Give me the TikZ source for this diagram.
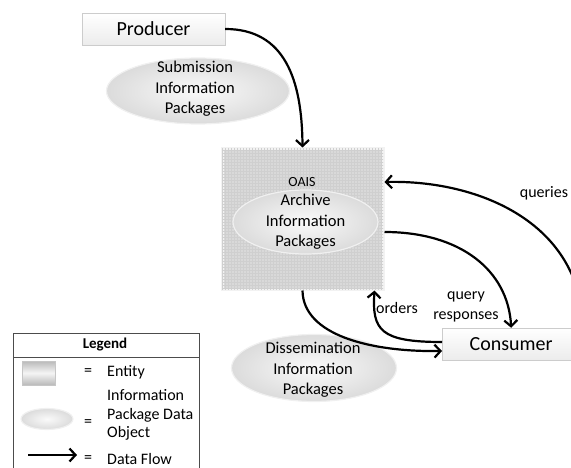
\documentclass[tikz,border=0pt]{standalone}
\usepackage{fontspec}
\setmainfont{Carlito}
\usetikzlibrary{shapes.geometric,arrows.meta,patterns,calc}

\begin{document}
\begin{tikzpicture}
[
	x=1pt, y=-1pt,
	entity/.style = {draw=gray!40, top color=white, bottom color=gray!15, inner sep=0pt, font=\fontsize{20}{24}\selectfont},
	archive/.style = {draw=gray!10, line width=3pt, fill=gray!30, postaction={pattern=grid, pattern color=gray!38}, minimum width=161pt, minimum height=140pt, inner sep=0pt},
	infopkg/.style = {ellipse, draw=gray!12, line width=1.2pt, inner color=gray!4, outer color=gray!28, inner sep=0pt},
	pkgtext/.style = {align=center, font=\fontsize{16.5}{20.5}\selectfont, inner sep=0pt},
	flow/.style = {line width=2.2pt, -{Straight Barb[length=6pt,width=13pt]}},
	lbl/.style = {font=\fontsize{16}{20}\selectfont, align=center, inner sep=0pt},
]
\useasboundingbox (0,0) rectangle (571,468);

% entities
\node[entity, minimum width=143pt, minimum height=32pt] (producer) at (153.5,29) {Producer};
\node[entity, minimum width=138pt, minimum height=32pt, anchor=west] (consumer) at (442,344) {Consumer};
\node[archive] (oais) at (302.5,219) {};
\node[font=\fontsize{14}{16}\selectfont, inner sep=0pt] (oaislabel) at (302,182) {OAIS};

% information packages
\node[infopkg, minimum width=183pt, minimum height=66pt] (sip) at (198,91) {};
\node[pkgtext] (siptext) at (195,89) {Submission\\Information\\Packages};
\node[infopkg, minimum width=145pt, minimum height=64pt] (aip) at (305.5,222) {};
\node[pkgtext] (aiptext) at (aip) {Archive\\Information\\Packages};
\node[infopkg, minimum width=165pt, minimum height=67pt] (dip) at (314,368) {};
\node[pkgtext] (diptext) at (313,370) {Dissemination\\Information\\Packages};

% data flows
\coordinate (qstart) at (580,300);
\draw[flow] (producer.east) .. controls (285,29) and (302,80) .. (oais.north);
\draw[flow] (qstart) .. controls (562,215) and (470,180) .. ([yshift=37pt]oais.east);
\draw[flow] ([yshift=-13pt]oais.east) .. controls (460,232) and (508,270) .. (consumer.north);
\draw[flow] ([yshift=2pt]consumer.west) .. controls (380,342) and (372,330) .. ([xshift=-10pt]oais.south east);
\draw[flow] (oais.south) .. controls (303,335) and (370,352) .. ([yshift=-7pt]consumer.west);

\node[lbl] (queries) at (544,193) {queries};
\node[lbl] (responses) at (466,307) {query\\responses};
\node[lbl] (orders) at (397,308) {orders};

% legend
\draw[gray!60!black, line width=0.8pt] (13,480) -- (13,333) -- (199,333) -- (199,480);
\draw[gray!60!black, line width=0.8pt] (13,357) -- (199,357);
\node[font=\bfseries\fontsize{15}{18}\selectfont, inner sep=0pt] (legendtitle) at (105,345) {Legend};
\node[draw=gray!45, top color=gray!55, bottom color=gray!55, middle color=gray!8, minimum width=33pt, minimum height=24pt, inner sep=0pt] (keyentity) at (38.5,373) {};
\node[infopkg, minimum width=52pt, minimum height=21pt] (keypkg) at (47,419) {};
\coordinate (keyflowa) at (28,455);
\coordinate (keyflowb) at (77,455);
\draw[flow] (keyflowa) -- (keyflowb);
\foreach \y in {372,423,459}
\node[lbl] (eq\y) at (88,\y) {=};
\node[lbl, anchor=west] (keyentitytext) at (107,372) {Entity};
\node[lbl, align=left, anchor=west, font=\fontsize{16}{18.5}\selectfont] (keypkgtext) at (107,415) {Information\\Package Data\\Object};
\node[lbl, anchor=west] (keyflowtext) at (107,459) {Data Flow};
\end{tikzpicture}
\end{document}
